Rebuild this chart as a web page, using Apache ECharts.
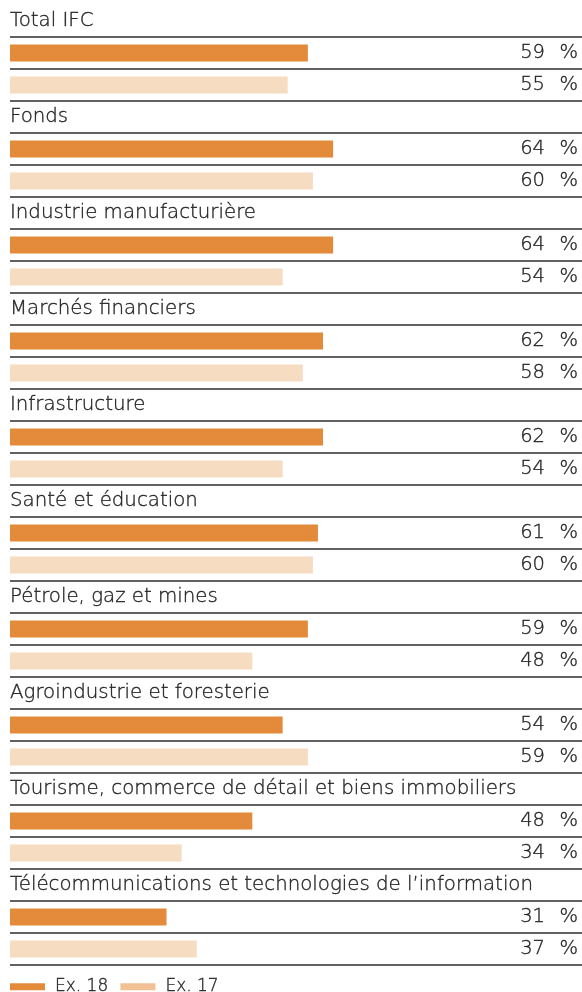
<!DOCTYPE html>
<html>
<head>
<meta charset="utf-8">
<script src="https://cdn.jsdelivr.net/npm/echarts@6/dist/echarts.min.js"></script>
<style>html,body{margin:0;padding:0;background:#fff;}#c{width:582px;height:992px;}</style>
</head>
<body>
<div id="c"></div>
<script>
const categories = [
  'Total IFC',
  'Fonds',
  'Industrie manufacturière',
  'Marchés financiers',
  'Infrastructure',
  'Santé et éducation',
  'Pétrole, gaz et mines',
  'Agroindustrie et foresterie',
  'Tourisme, commerce de détail et biens immobiliers',
  'Télécommunications et technologies de l’information'
];
const ex18 = [59, 64, 64, 62, 62, 61, 59, 54, 48, 31];
const ex17 = [55, 60, 54, 58, 54, 60, 48, 59, 34, 37];
const seriesNames = ['Ex. 18', 'Ex. 17'];

const FONT = '"DejaVu Sans", sans-serif';
const FW = 200;
const FS = 19.8;
const TXT = '#262626';
const txt = (size) => ({fontSize: size, color: TXT, fontFamily: FONT, fontWeight: FW, textBorderColor: TXT, textBorderWidth: 0.35});
const rows = [];
categories.forEach((c, i) => { rows.push('t' + i, 'a' + i, 'b' + i); });
const d18 = rows.map((r, k) => (k % 3 === 1 ? ex18[(k - 1) / 3] : '-'));
const d17 = rows.map((r, k) => (k % 3 === 2 ? ex17[(k - 2) / 3] : '-'));

const chart = echarts.init(document.getElementById('c'), null, {renderer: 'canvas'});
chart.setOption({
  animation: false,
  textStyle: {fontFamily: FONT},
  grid: {left: 10, right: 0, top: 5, height: 960, containLabel: false},
  legend: {
    left: 10, top: 978, padding: 0, icon: 'rect', itemWidth: 35, itemHeight: 7, itemGap: 12,
    textStyle: Object.assign(txt(17), {padding: [0, 0, 0, 5]}),
    data: [
      {name: seriesNames[0], itemStyle: {color: '#e38b3b'}},
      {name: seriesNames[1], itemStyle: {color: '#f2c193'}}
    ]
  },
  xAxis: {type: 'value', min: 0, max: 113.3, show: false},
  yAxis: [
    {
      type: 'category', data: rows, inverse: true, position: 'left',
      axisLine: {show: false}, axisTick: {show: false},
      splitLine: {show: true, interval: (idx) => idx !== 0, lineStyle: {color: '#2e2e2e', width: 1.5}},
      axisLabel: Object.assign(txt(FS), {
        inside: true, margin: 0, interval: 0,
        formatter: (v, idx) => (idx % 3 === 0 ? categories[idx / 3] : '')
      })
    },
    {
      type: 'category', data: rows, inverse: true, position: 'right',
      axisLine: {show: false}, axisTick: {show: false}, splitLine: {show: false},
      axisLabel: {
        inside: true, margin: 4, interval: 0,
        formatter: (v, idx) => {
          const g = Math.floor(idx / 3), m = idx % 3;
          if (m === 0) return '';
          const val = m === 1 ? ex18[g] : ex17[g];
          return '{v|' + val + '}{p|%}';
        },
        rich: {
          v: txt(19.5),
          p: Object.assign(txt(19.5), {width: 33, align: 'right'})
        }
      }
    }
  ],
  series: [
    {name: seriesNames[0], type: 'bar', data: d18, barWidth: 17, barGap: '-100%', itemStyle: {color: '#e38b3b'}},
    {name: seriesNames[1], type: 'bar', data: d17, barWidth: 17, barGap: '-100%', itemStyle: {color: '#f6dcc0'}}
  ]
});
</script>
</body>
</html>
